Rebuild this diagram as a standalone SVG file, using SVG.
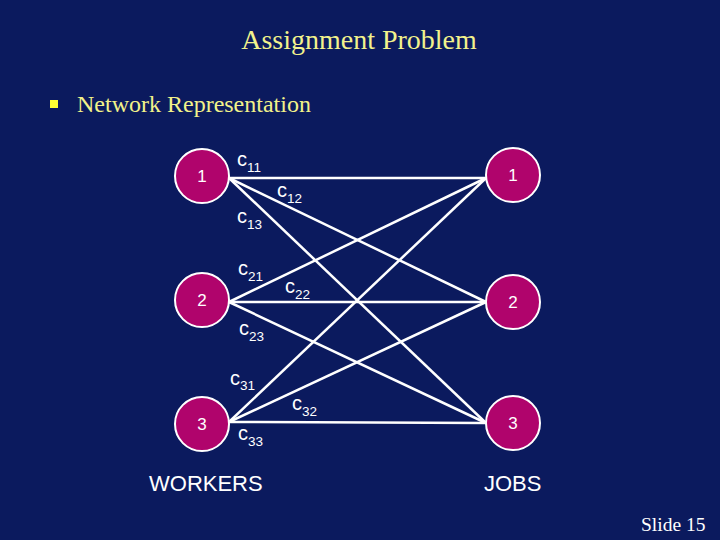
<svg xmlns="http://www.w3.org/2000/svg" width="720" height="540" viewBox="0 0 720 540">
<style>
.node circle{fill:#B0046C;stroke:#FFFFFF;stroke-width:2}
.node text{fill:#FFFFFF;font-family:"Liberation Sans",Arial,sans-serif;font-size:17px;text-anchor:middle}
.edges line{stroke:#FFFFFF;stroke-width:2.5}
.lbl{fill:#FFFFFF;font-family:"Liberation Sans",Arial,sans-serif;font-size:20px}
.sub{font-size:13.5px}
.cap{fill:#FFFFFF;font-family:"Liberation Sans",Arial,sans-serif;font-size:22px}
</style>
<rect width="720" height="540" fill="#0B1A5E"/>
<text x="359" y="49" font-family="'Liberation Serif','Times New Roman',serif" font-size="28" fill="#F2F28C" text-anchor="middle">Assignment Problem</text>
<rect x="50" y="100" width="8" height="8" fill="#FFFF33"/>
<text x="77" y="112" font-family="'Liberation Serif','Times New Roman',serif" font-size="24" fill="#F2F28A">Network Representation</text>
<g class="edges" id="connectors">
<line x1="229" y1="178" x2="486" y2="178"/>
<line x1="229" y1="178" x2="486" y2="302"/>
<line x1="229" y1="178" x2="486" y2="423"/>
<line x1="229" y1="302" x2="486" y2="178"/>
<line x1="229" y1="302" x2="486" y2="302"/>
<line x1="229" y1="302" x2="486" y2="423"/>
<line x1="229" y1="422" x2="486" y2="178"/>
<line x1="229" y1="422" x2="486" y2="302"/>
<line x1="229" y1="422" x2="486" y2="423"/>
</g>
<g id="w1" class="node"><circle cx="202" cy="176" r="27"/><text x="202" y="182">1</text></g>
<g id="w2" class="node"><circle cx="202" cy="300" r="27"/><text x="202" y="306">2</text></g>
<g id="w3" class="node"><circle cx="202" cy="424" r="27"/><text x="202" y="430">3</text></g>
<g id="j1" class="node"><circle cx="513" cy="175" r="27"/><text x="513" y="181">1</text></g>
<g id="j2" class="node"><circle cx="513" cy="302" r="27"/><text x="513" y="308">2</text></g>
<g id="j3" class="node"><circle cx="513" cy="423" r="27"/><text x="513" y="429">3</text></g>
<g id="labels">
<text class="lbl" x="237" y="166">c<tspan class="sub" dy="6">11</tspan></text>
<text class="lbl" x="277" y="197">c<tspan class="sub" dy="6">12</tspan></text>
<text class="lbl" x="237" y="223">c<tspan class="sub" dy="6">13</tspan></text>
<text class="lbl" x="238" y="275">c<tspan class="sub" dy="6">21</tspan></text>
<text class="lbl" x="285" y="293">c<tspan class="sub" dy="6">22</tspan></text>
<text class="lbl" x="239" y="335">c<tspan class="sub" dy="6">23</tspan></text>
<text class="lbl" x="230" y="385">c<tspan class="sub" dy="5">31</tspan></text>
<text class="lbl" x="292" y="410">c<tspan class="sub" dy="6">32</tspan></text>
<text class="lbl" x="238" y="440">c<tspan class="sub" dy="6">33</tspan></text>
</g>
<text class="cap" x="149" y="491">WORKERS</text>
<text class="cap" x="484" y="491">JOBS</text>
<text x="641" y="531" font-family="'Liberation Serif','Times New Roman',serif" font-size="19.5" fill="#FFFFFF">Slide  15</text>
</svg>
